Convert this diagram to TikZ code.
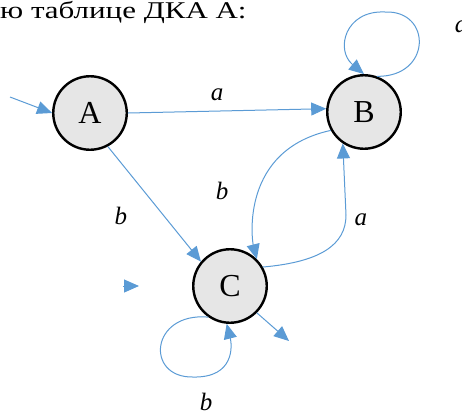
\documentclass[tikz,border=0pt]{standalone}
\usepackage{fontspec}
\setmainfont{Liberation Serif}
\usetikzlibrary{positioning, arrows.meta}
\definecolor{eBlue}{HTML}{5B9BD5}
\definecolor{sFill}{HTML}{E6E6E6}
\tikzset{
  dkastate/.style={circle, draw=black, line width=2.4pt, fill=sFill, minimum size=73.5pt,
    inner sep=0pt, font=\fontsize{32}{32}\selectfont},
  trans/.style={draw=eBlue, line width=1pt, -{Triangle[length=15pt,width=13pt]}},
  lbl/.style={font=\fontsize{25}{25}\selectfont\itshape, inner sep=2pt},
}

\begin{document}
\begin{tikzpicture}[x=1pt, y=-1pt]
  \useasboundingbox (0,0) rectangle (462,416);
  \clip (0,0) rectangle (462,416);
  \node[anchor=base west, inner sep=0pt, font=\fontsize{24}{24}\selectfont] (title) at (0,18.5)
    {\scalebox{1.29}[1]{ю таблице ДКА А:}};
  % states
  \node[dkastate] (A) at (90,113) {A};
  \node[dkastate] (B) at (364,112) {B};
  \node[dkastate] (C) at (230,286) {C};
  \coordinate (start) at (10,97);
  \coordinate (stubL) at (123,286);
  \coordinate (stubR) at (139,286);
  \coordinate (out) at (289,341);
  % transitions
  \draw[trans] (start) -- (A.west);
  \draw[trans] (A.east) -- node[lbl, pos=0.45, above=8pt] {a} (B.175);
  \draw[trans] (A.-62) -- node[lbl, pos=0.6, left=34pt] {b} (C.140);
  \draw[trans] (B.209) .. controls (240,150) and (252,240) .. node[lbl, pos=0.5, left=27pt, yshift=4pt] {b} (C.45);
  \draw[trans] (C.30) .. controls (320,262) and (346,245) .. (346,215)
    node[lbl, right=6pt, yshift=-5pt] {a} -- (B.236);
  \draw[trans] (B.70) .. controls (432,77) and (432,10) .. (385,12)
    .. controls (345,10) and (335,50) .. (B.north);
  \node[lbl] (loopB) at (461,27) {a};
  \draw[trans] (C.235) .. controls (150,312) and (145,378) .. (193,377)
    .. controls (235,378) and (232,345) .. node[lbl, pos=0.15, below=15pt, xshift=-3pt] {b} (C.265);
  \draw[trans] (C.-45) -- (out);
  \draw[trans] (stubL) -- (stubR);
\end{tikzpicture}
\end{document}
